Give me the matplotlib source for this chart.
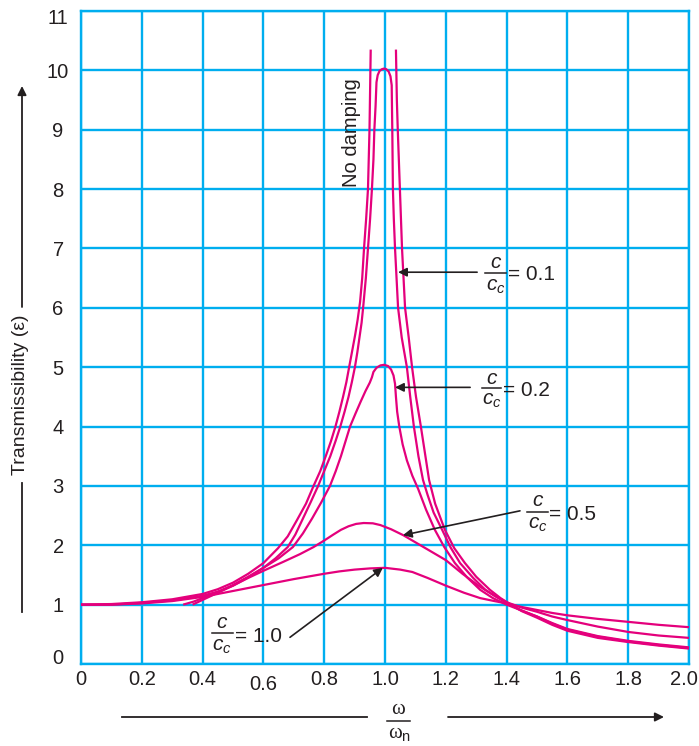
import matplotlib
matplotlib.use('Agg')
import matplotlib.pyplot as plt
from matplotlib.transforms import ScaledTranslation
from matplotlib.lines import Line2D
from matplotlib.patches import FancyArrowPatch

# ---------------- data ----------------
x_ticks = [0, 0.2, 0.4, 0.6, 0.8, 1.0, 1.2, 1.4, 1.6, 1.8, 2.0]
x_tick_labels = ['0', '0.2', '0.4', '0.6', '0.8', '1.0', '1.2', '1.4', '1.6', '1.8', '2.0']
y_ticks = list(range(0, 12))
y_tick_labels = [str(v) for v in y_ticks]

# No damping: two branches
nd_left_x = [0, 0.1, 0.2, 0.3, 0.4, 0.45, 0.5, 0.55, 0.6, 0.648, 0.68, 0.71, 0.74, 0.765,
             0.787, 0.805, 0.822, 0.837, 0.85, 0.862, 0.873, 0.882, 0.893, 0.902, 0.91,
             0.918, 0.925, 0.931, 0.938, 0.944, 0.949, 0.953]
nd_left_y = [1.0, 1.01, 1.04, 1.09, 1.18, 1.26, 1.37, 1.52, 1.70, 1.95, 2.15, 2.42, 2.7, 3.0,
             3.25, 3.5, 3.75, 4.0, 4.25, 4.5, 4.75, 5.0, 5.3, 5.55, 5.8,
             6.1, 6.5, 7.0, 7.5, 8.0, 9.0, 10.35]
nd_right_x = [1.036, 1.039, 1.042, 1.049, 1.056, 1.066, 1.078, 1.089, 1.102, 1.118, 1.133,
              1.145, 1.165, 1.197, 1.228, 1.263, 1.30, 1.345, 1.38, 1.414, 1.45, 1.5, 1.55,
              1.6, 1.7, 1.8, 1.9, 2.0]
nd_right_y = [10.35, 9.5, 9.0, 8.0, 7.0, 6.0, 5.5, 5.0, 4.5, 4.0, 3.5,
              3.1, 2.7, 2.26, 1.95, 1.70, 1.47, 1.25, 1.11, 1.0, 0.89, 0.78, 0.66,
              0.56, 0.44, 0.37, 0.31, 0.26]

# c/cc = 0.1
z01_x = [0, 0.1, 0.2, 0.3, 0.4, 0.45, 0.5, 0.55, 0.6, 0.64, 0.68, 0.705, 0.73, 0.755,
         0.78, 0.8, 0.82, 0.837, 0.853, 0.867, 0.88, 0.891, 0.901, 0.909, 0.916, 0.923,
         0.928, 0.937, 0.944, 0.951, 0.957, 0.962, 0.965, 0.969, 0.972, 0.976, 0.982,
         0.99, 0.997, 1.004, 1.012, 1.018, 1.022, 1.024, 1.026, 1.029, 1.033, 1.038,
         1.043, 1.055, 1.072, 1.083, 1.095, 1.11, 1.125, 1.14, 1.16, 1.188, 1.215, 1.247,
         1.29, 1.33, 1.37, 1.41, 1.45, 1.5, 1.55, 1.6, 1.7, 1.8, 1.9, 2.0]
z01_y = [1.0, 1.0, 1.03, 1.07, 1.15, 1.22, 1.32, 1.46, 1.62, 1.78, 1.97, 2.18, 2.45, 2.72,
         3.0, 3.25, 3.5, 3.75, 4.0, 4.25, 4.5, 4.75, 5.0, 5.25, 5.5, 5.75,
         6.0, 6.5, 7.0, 7.5, 8.0, 8.5, 9.0, 9.4, 9.8, 9.92, 9.99,
         10.02, 10.03, 10.02, 9.98, 9.9, 9.75, 9.0, 8.0, 7.5, 7.0, 6.5,
         6.0, 5.5, 5.0, 4.5, 4.0, 3.5, 3.1, 2.85, 2.55, 2.26, 1.97, 1.70,
         1.45, 1.25, 1.12, 1.0, 0.9, 0.80, 0.68, 0.58, 0.46, 0.38, 0.32, 0.27]

# c/cc = 0.2
z02_x = [0.336, 0.37, 0.4, 0.45, 0.5, 0.55, 0.6, 0.65, 0.697, 0.73, 0.76, 0.79, 0.819,
         0.838, 0.855, 0.87, 0.885, 0.903, 0.92, 0.936, 0.95, 0.957, 0.962, 0.972, 0.985,
         0.997, 1.01, 1.02, 1.028, 1.033, 1.036, 1.04, 1.047, 1.058, 1.072, 1.09, 1.109,
         1.135, 1.164, 1.195, 1.23, 1.27, 1.313, 1.355, 1.40, 1.45, 1.5, 1.55, 1.6,
         1.7, 1.8, 1.9, 2.0]
z02_y = [1.0, 1.05, 1.11, 1.21, 1.33, 1.47, 1.62, 1.78, 1.97, 2.2, 2.45, 2.72, 3.0,
         3.25, 3.5, 3.75, 4.0, 4.22, 4.42, 4.6, 4.74, 4.83, 4.92, 4.99, 5.03,
         5.04, 5.02, 4.96, 4.86, 4.72, 4.5, 4.25, 4.0, 3.7, 3.43, 3.17, 2.95,
         2.6, 2.26, 1.97, 1.70, 1.46, 1.25, 1.11, 1.0, 0.9, 0.80, 0.69, 0.59,
         0.47, 0.39, 0.33, 0.28]

# c/cc = 0.5
z05_x = [0.367, 0.4, 0.45, 0.5, 0.55, 0.6, 0.665, 0.72, 0.765, 0.8, 0.83, 0.855, 0.88,
         0.905, 0.93, 0.96, 0.985, 1.02, 1.06, 1.1, 1.15, 1.2, 1.255, 1.313, 1.36, 1.40,
         1.45, 1.5, 1.55, 1.6, 1.7, 1.8, 1.9, 2.0]
z05_y = [1.0, 1.08, 1.2, 1.32, 1.45, 1.57, 1.72, 1.85, 1.97, 2.08, 2.18, 2.26, 2.32,
         2.36, 2.375, 2.37, 2.34, 2.27, 2.17, 2.05, 1.9, 1.75, 1.52, 1.30, 1.15, 1.04,
         0.95, 0.88, 0.80, 0.74, 0.63, 0.54, 0.48, 0.44]

# c/cc = 1.0
z10_x = [0, 0.1, 0.2, 0.3, 0.4, 0.5, 0.6, 0.7, 0.8, 0.85, 0.9, 0.95, 1.0, 1.05, 1.09,
         1.14, 1.2, 1.26, 1.313, 1.36, 1.40, 1.45, 1.5, 1.55, 1.6, 1.7, 1.8, 1.9, 2.0]
z10_y = [1.0, 1.0, 1.02, 1.06, 1.13, 1.23, 1.33, 1.43, 1.52, 1.56, 1.59, 1.61, 1.62,
         1.59, 1.55, 1.45, 1.32, 1.2, 1.11, 1.06, 1.02, 0.96, 0.91, 0.86, 0.82, 0.76,
         0.71, 0.66, 0.62]

# ---------------- style ----------------
BLUE = '#00AEEF'
MAG = '#E4007C'
INK = '#231F20'

plt.rcParams['font.family'] = ['Liberation Sans', 'DejaVu Sans']
plt.rcParams['mathtext.fontset'] = 'custom'
plt.rcParams['mathtext.it'] = 'Liberation Sans:italic'
plt.rcParams['mathtext.rm'] = 'Liberation Sans'

W, H = 699, 746
fig = plt.figure(figsize=(W / 100, H / 100), dpi=100)


def fx(px):
    return px / W


def fy(py):
    return 1 - py / H


ax = fig.add_axes([fx(81), fy(664), (689 - 81) / W, (664 - 11) / H])
ax.set_xlim(0, 2.0)
ax.set_ylim(0, 11)
ax.set_xticks(x_ticks)
ax.set_xticklabels(x_tick_labels)
ax.set_yticks(y_ticks)
ax.set_yticklabels(y_tick_labels)
ax.grid(True, color=BLUE, lw=1.7)
ax.set_axisbelow(True)
for s in ax.spines.values():
    s.set_color(BLUE)
    s.set_linewidth(1.7)
ax.tick_params(length=0, labelsize=14.5, labelcolor=INK)
ax.tick_params(axis='x', pad=4.5)
ax.tick_params(axis='y', pad=16.5)
for lab in ax.get_yticklabels():
    lab.set_horizontalalignment('center')

# small per-label shifts as in the reference
xl = ax.get_xticklabels()
xl[3].set_transform(xl[3].get_transform() + ScaledTranslation(0, -5 / 100, fig.dpi_scale_trans))
xl[-1].set_transform(xl[-1].get_transform() + ScaledTranslation(-5 / 100, 0, fig.dpi_scale_trans))
yl = ax.get_yticklabels()
yl[0].set_transform(yl[0].get_transform() + ScaledTranslation(0, 8 / 100, fig.dpi_scale_trans))
yl[-1].set_transform(yl[-1].get_transform() + ScaledTranslation(0, -5 / 100, fig.dpi_scale_trans))

lw = 1.6
for xs, ys in [(nd_left_x, nd_left_y), (nd_right_x, nd_right_y), (z01_x, z01_y),
               (z02_x, z02_y), (z05_x, z05_y), (z10_x, z10_y)]:
    ax.plot(xs, ys, color=MAG, lw=lw, solid_capstyle='butt', solid_joinstyle='round',
            clip_on=False, zorder=3)

# ---------------- annotations ----------------
ax.text(0.89, 8.95, 'No damping', rotation=90, ha='center', va='center',
        fontsize=14.5, color=INK)

arrow_kw = dict(arrowstyle='-|>', color=INK, lw=1.2, mutation_scale=13,
                shrinkA=0, shrinkB=0)
ax.annotate('', xy=(1.043, 6.6), xytext=(1.303, 6.6), arrowprops=arrow_kw)
ax.annotate('', xy=(1.033, 4.66), xytext=(1.28, 4.66), arrowprops=arrow_kw)
ax.annotate('', xy=(1.059, 2.17), xytext=(1.444, 2.58), arrowprops=arrow_kw)
ax.annotate('', xy=(0.993, 1.62), xytext=(0.6875, 0.45), arrowprops=arrow_kw)


def frac_label(cx, py_c, py_line, py_cc, x0, x1, eq_x, eq_py, value):
    fig.text(fx(cx), fy(py_c), 'c', fontsize=15, style='italic', color=INK,
             ha='center', va='center')
    fig.add_artist(Line2D([fx(x0), fx(x1)], [fy(py_line), fy(py_line)],
                          transform=fig.transFigure, color=INK, lw=1.1))
    fig.text(fx(cx), fy(py_cc), r'$c_{c}$', fontsize=15, color=INK,
             ha='center', va='center')
    fig.text(fx(eq_x), fy(eq_py), '= ' + value, fontsize=15, color=INK,
             ha='left', va='center')


frac_label(496, 262, 273, 286, 485, 506, 508, 275, '0.1')
frac_label(492, 378, 388, 400, 482, 501, 503, 390, '0.2')
frac_label(538, 501, 512, 525, 527, 548, 549, 514, '0.5')
frac_label(222, 623, 633, 646, 212, 233, 235, 636, '1.0')

# y axis label with broken arrow
fig.text(fx(21), fy(395), 'Transmissibility (\u03b5)', rotation=90, ha='center',
         va='center', fontsize=14, color=INK)
fig.add_artist(Line2D([fx(22), fx(22)], [fy(612), fy(483)], transform=fig.transFigure,
                      color=INK, lw=1.3))
fig.add_artist(FancyArrowPatch((fx(22), fy(307)), (fx(22), fy(86)),
                               transform=fig.transFigure, arrowstyle='-|>',
                               mutation_scale=13, color=INK, lw=1.3,
                               shrinkA=0, shrinkB=0))

# x axis label with broken arrow
fig.text(fx(398), fy(709), '\u03c9', ha='center', va='center', fontsize=15,
         color=INK, family=['Liberation Serif', 'DejaVu Serif'])
fig.add_artist(Line2D([fx(387), fx(410)], [fy(721), fy(721)], transform=fig.transFigure,
                      color=INK, lw=1.1))
fig.text(fx(400), fy(734), '\u03c9$_\\mathrm{n}$', ha='center', va='center', fontsize=15,
         color=INK, family=['Liberation Serif', 'DejaVu Serif'])
fig.add_artist(Line2D([fx(122), fx(367)], [fy(717), fy(717)], transform=fig.transFigure,
                      color=INK, lw=1.3))
fig.add_artist(FancyArrowPatch((fx(448), fy(717)), (fx(664), fy(717)),
                               transform=fig.transFigure, arrowstyle='-|>',
                               mutation_scale=13, color=INK, lw=1.3,
                               shrinkA=0, shrinkB=0))

fig.savefig('out.png', dpi=100)
